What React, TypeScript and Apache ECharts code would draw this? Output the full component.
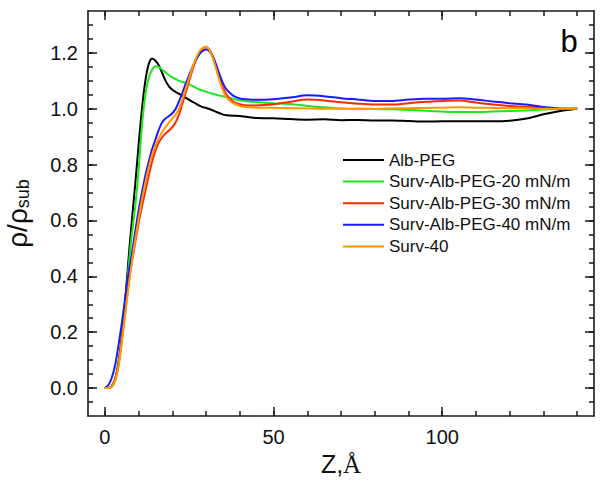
import React, { useEffect, useRef } from "react";
import * as echarts from "echarts";

// Z (Å) sampling grid shared by all profiles
const Z = [
  0, 1, 2, 3, 4, 5, 6, 7, 8, 9, 10, 11, 12, 13, 14, 15, 16, 17, 18, 19, 20,
  21, 22, 23, 24, 25, 26, 27, 28, 29, 30, 31, 32, 33, 34, 35, 36,
  38, 40, 42, 45, 50, 55, 60, 65, 70, 75, 80, 85, 90, 95, 100, 105, 110, 115,
  120, 125, 130, 135, 140,
];

const ALB_PEG = [
  0, 0, 0.005, 0.03, 0.09, 0.18, 0.31, 0.46, 0.6, 0.73, 0.87, 1.0, 1.1, 1.16,
  1.18, 1.172, 1.155, 1.128, 1.1, 1.08, 1.068, 1.06, 1.053, 1.046, 1.039,
  1.032, 1.025, 1.018, 1.011, 1.006, 1.003, 0.999, 0.994, 0.989, 0.984, 0.979,
  0.977,
  0.975, 0.974, 0.971, 0.967, 0.966, 0.963, 0.961, 0.962, 0.959, 0.96, 0.958,
  0.958, 0.956, 0.954, 0.955, 0.955, 0.955, 0.955, 0.957, 0.965, 0.98, 0.992,
  1.0,
];

const SURV_ALB_20 = [
  0, 0, 0.005, 0.025, 0.08, 0.17, 0.29, 0.43, 0.55, 0.65, 0.78, 0.94, 1.05,
  1.11, 1.14, 1.152, 1.15, 1.14, 1.13, 1.12, 1.112, 1.106, 1.1, 1.096, 1.092,
  1.087, 1.081, 1.075, 1.069, 1.065, 1.061, 1.057, 1.054, 1.05, 1.047, 1.045,
  1.042,
  1.036, 1.03, 1.027, 1.024, 1.02, 1.017, 1.01, 1.005, 1.001, 1.0, 0.999,
  0.998, 0.996, 0.993, 0.99, 0.988, 0.988, 0.99, 0.992, 0.994, 0.997, 0.999,
  1.0,
];

const SURV_ALB_30 = [
  0, 0, 0.008, 0.03, 0.08, 0.17, 0.27, 0.37, 0.45, 0.52, 0.59, 0.65, 0.705,
  0.76, 0.81, 0.85, 0.88, 0.898, 0.912, 0.922, 0.934, 0.952, 0.98, 1.02, 1.06,
  1.1, 1.14, 1.175, 1.2, 1.215, 1.22, 1.212, 1.188, 1.152, 1.112, 1.077, 1.052,
  1.026, 1.016, 1.012, 1.012, 1.016, 1.025, 1.033, 1.03, 1.023, 1.018, 1.015,
  1.015, 1.02, 1.025, 1.028, 1.03, 1.022, 1.015, 1.01, 1.007, 1.003, 1.0, 1.0,
];

const SURV_ALB_40 = [
  0, 0.01, 0.035, 0.08, 0.15, 0.23, 0.32, 0.41, 0.48, 0.56, 0.635, 0.7, 0.76,
  0.81, 0.855, 0.89, 0.925, 0.952, 0.965, 0.974, 0.984, 1.0, 1.027, 1.058,
  1.09, 1.12, 1.15, 1.175, 1.195, 1.207, 1.212, 1.206, 1.187, 1.157, 1.122,
  1.092, 1.07,
  1.047, 1.037, 1.034, 1.032, 1.034, 1.04, 1.048, 1.045, 1.038, 1.033, 1.028,
  1.028, 1.033, 1.036, 1.036, 1.038, 1.033, 1.026, 1.02, 1.015, 1.006, 1.001,
  1.0,
];

const SURV_40 = [
  0, 0, 0.006, 0.025, 0.075, 0.16, 0.26, 0.36, 0.45, 0.53, 0.605, 0.675, 0.735,
  0.79, 0.835, 0.868, 0.895, 0.917, 0.935, 0.95, 0.965, 0.98, 1.0, 1.035,
  1.073, 1.11, 1.148, 1.18, 1.205, 1.218, 1.222, 1.21, 1.182, 1.142, 1.1,
  1.066, 1.042,
  1.02, 1.01, 1.006, 1.004, 1.004, 1.002, 1.001, 1.0, 1.0, 1.0, 1.0, 1.001,
  1.002, 1.003, 1.004, 1.005, 1.004, 1.003, 1.002, 1.001, 1.0, 1.0, 1.0,
];

const SERIES_NAMES = [
  "Alb-PEG",
  "Surv-Alb-PEG-20 mN/m",
  "Surv-Alb-PEG-30 mN/m",
  "Surv-Alb-PEG-40 mN/m",
  "Surv-40",
];
const SERIES_VALUES = [ALB_PEG, SURV_ALB_20, SURV_ALB_30, SURV_ALB_40, SURV_40];
const SERIES_COLORS = ["#000000", "#1ee61e", "#ff2a00", "#1a1aff", "#ff9900"];

const X_LABELS = [0, 50, 100];
const X_MINOR = [0, 10, 20, 30, 40, 50, 60, 70, 80, 90, 100, 110, 120, 130, 140];
const Y_LABELS = [0, 0.2, 0.4, 0.6, 0.8, 1.0, 1.2];
const Y_MINOR = [
  -0.05, 0, 0.05, 0.1, 0.15, 0.2, 0.25, 0.3, 0.35, 0.4, 0.45, 0.5, 0.55, 0.6,
  0.65, 0.7, 0.75, 0.8, 0.85, 0.9, 0.95, 1.0, 1.05, 1.1, 1.15, 1.2, 1.25, 1.3,
];

const SANS = "'Liberation Sans', Arial, sans-serif";
const SERIF = "'Liberation Serif', 'Times New Roman', serif";
const AX = "#1a1a1a";

export default function App() {
  const ref = useRef<HTMLDivElement>(null);

  useEffect(() => {
    if (!ref.current) return;
    const chart = echarts.init(ref.current, undefined, { renderer: "svg" });

    const X_MIN = -5;
    const X_MAX = 145;
    const Y_MIN = -0.1;
    const Y_MAX = 1.35;

    const line = { show: true, onZero: false, lineStyle: { color: AX, width: 1.6 } };
    const noLine = { show: false, onZero: false };
    const tick = (len: number, vals: number[]) => ({
      show: true,
      inside: true,
      length: len,
      customValues: vals,
      lineStyle: { color: AX, width: 1.5 },
    });

    const xBase = {
      type: "value",
      min: X_MIN,
      max: X_MAX,
      splitLine: { show: false },
      axisLabel: { show: false },
    };
    const yBase = {
      type: "value",
      min: Y_MIN,
      max: Y_MAX,
      splitLine: { show: false },
      axisLabel: { show: false },
    };

    chart.setOption({
      animation: false,
      backgroundColor: "#ffffff",
      grid: {
        left: 88,
        right: 8,
        top: 11,
        bottom: 70,
        containLabel: false,
        outerBoundsMode: "none",
      },
      legend: {
        orient: "vertical",
        left: 338,
        top: 146,
        icon: "rect",
        itemWidth: 41,
        itemHeight: 2,
        itemGap: 3.6,
        itemTextGap: 5,
        data: SERIES_NAMES,
        textStyle: {
          fontSize: 17,
          lineHeight: 18,
          fontFamily: SANS,
          color: "#111111",
        },
      },
      xAxis: [
        {
          ...xBase,
          position: "bottom",
          axisLine: line,
          axisTick: tick(9, X_LABELS),
          axisLabel: {
            show: true,
            customValues: X_LABELS,
            fontSize: 20,
            fontFamily: SANS,
            color: "#111111",
            margin: 11,
          },
          name: "{z|Z,}{a|Å}",
          nameLocation: "middle",
          nameGap: 33,
          nameTextStyle: {
            rich: {
              z: { fontSize: 25, fontFamily: SANS, color: "#111111" },
              a: { fontSize: 25, fontFamily: SERIF, color: "#111111" },
            },
          },
        },
        { ...xBase, position: "bottom", axisLine: noLine, axisTick: tick(5, X_MINOR) },
        { ...xBase, position: "top", axisLine: line, axisTick: tick(9, X_LABELS) },
        { ...xBase, position: "top", axisLine: noLine, axisTick: tick(5, X_MINOR) },
      ],
      yAxis: [
        {
          ...yBase,
          position: "left",
          axisLine: line,
          axisTick: tick(9, Y_LABELS),
          axisLabel: {
            show: true,
            customValues: Y_LABELS,
            formatter: (v: number) => v.toFixed(1),
            fontSize: 20,
            fontFamily: SANS,
            color: "#111111",
            margin: 10,
          },
          name: "{a|ρ/ρ}{s|sub}",
          nameLocation: "middle",
          nameGap: 56,
          nameTextStyle: {
            rich: {
              a: { fontSize: 28, lineHeight: 30, fontFamily: SANS, color: "#111111" },
              s: {
                fontSize: 18,
                lineHeight: 10,
                verticalAlign: "bottom",
                fontFamily: SANS,
                color: "#111111",
              },
            },
          },
        },
        { ...yBase, position: "left", axisLine: noLine, axisTick: tick(5, Y_MINOR) },
        { ...yBase, position: "right", axisLine: line, axisTick: tick(9, Y_LABELS) },
        { ...yBase, position: "right", axisLine: noLine, axisTick: tick(5, Y_MINOR) },
      ],
      graphic: [
        {
          type: "text",
          style: {
            text: "b",
            x: 569,
            y: 41,
            textAlign: "center",
            textVerticalAlign: "middle",
            fontSize: 31,
            fontFamily: SANS,
            fill: "#000000",
          },
        },
      ],
      series: SERIES_NAMES.map((name, i) => ({
        name,
        type: "line",
        xAxisIndex: 0,
        yAxisIndex: 0,
        data: Z.map((z, j) => [z, SERIES_VALUES[i][j]]),
        showSymbol: false,
        symbol: "none",
        smooth: 0.3,
        color: SERIES_COLORS[i],
        lineStyle: { color: SERIES_COLORS[i], width: 2 },
      })),
    });

    return () => chart.dispose();
  }, []);

  return (
    <div
      ref={ref}
      style={{ position: "fixed", left: 0, top: 0, width: 602, height: 486 }}
    />
  );
}
